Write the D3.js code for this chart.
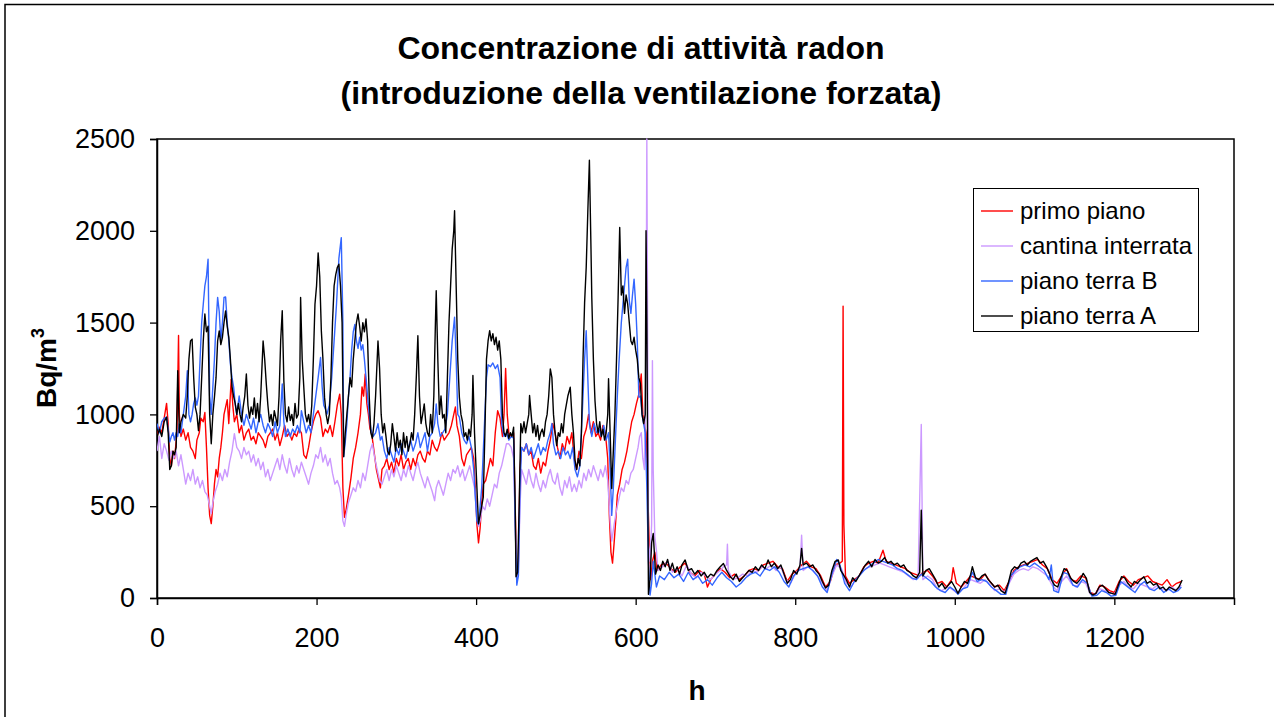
<!DOCTYPE html>
<html>
<head>
<meta charset="utf-8">
<script src="https://cdn.jsdelivr.net/npm/d3@7"></script>
<style>
  body { margin: 0; background: #fff; }
  svg { display: block; font-family: Arial, "Liberation Sans", sans-serif; }
</style>
</head>
<body>
<div id="app"></div>
<script>
// series: [hour, Bq/m3] pairs
const primoPiano = [
  [0,880],[3,930],[6,900],[9,980],[12,1060],[14,950],[16,760],[18,720],[20,800],[22,760],[25,900],[27,1430],[28,1000],[30,880],[33,920],[36,860],[39,900],[42,820],[45,800],[48,760],[50,860],[53,900],[55,980],[58,960],[60,1010],[62,820],[64,600],[66,450],[68,405],[70,500],[72,620],[74,700],[76,660],[78,760],[80,820],[82,900],[84,1000],[86,1040],[88,1080],[90,950],[93,1190],[95,1050],[97,960],[100,1000],[103,900],[106,940],[109,860],[112,900],[115,920],[118,860],[121,880],[124,840],[127,900],[130,880],[133,860],[136,820],[139,880],[142,900],[145,920],[148,860],[151,900],[154,830],[157,880],[160,940],[163,880],[166,900],[169,860],[172,900],[175,880],[178,920],[181,900],[184,780],[187,760],[190,820],[193,900],[196,960],[199,1000],[202,1020],[205,980],[208,880],[211,920],[214,900],[217,940],[220,880],[223,960],[226,1050],[229,1110],[231,1000],[233,600],[235,440],[237,480],[240,560],[243,650],[246,760],[249,820],[252,900],[255,1000],[257,1150],[259,1100],[261,1220],[263,1060],[265,1000],[267,920],[269,900],[272,800],[275,700],[278,640],[280,600],[282,700],[285,720],[288,760],[291,700],[294,740],[297,680],[300,760],[303,720],[306,780],[309,700],[312,740],[315,760],[318,700],[321,760],[324,720],[327,780],[330,800],[333,760],[336,740],[339,800],[342,780],[345,860],[348,820],[351,800],[354,840],[357,900],[360,860],[363,880],[366,900],[369,940],[372,1000],[374,1040],[376,940],[379,880],[382,760],[385,720],[388,780],[391,800],[394,820],[397,760],[399,600],[401,400],[403,300],[405,380],[407,520],[409,620],[412,640],[415,700],[418,760],[421,720],[424,900],[427,1020],[430,980],[433,880],[435,1000],[437,1250],[439,1000],[441,900],[444,880],[447,900],[449,500],[451,100],[453,200],[455,700],[457,820],[460,800],[463,840],[466,780],[469,800],[472,720],[475,700],[478,760],[481,680],[484,740],[487,720],[490,800],[493,860],[496,950],[499,900],[502,820],[505,760],[508,840],[511,800],[514,880],[517,840],[520,900],[523,760],[526,700],[529,800],[532,760],[535,880],[538,920],[541,1000],[544,900],[547,960],[550,880],[553,900],[556,860],[559,940],[562,900],[565,760],[567,450],[569,250],[571,190],[573,300],[575,420],[577,560],[580,620],[583,700],[586,740],[589,800],[592,880],[595,960],[598,1000],[601,1060],[604,1110],[607,1220],[609,1000],[611,950],[613,900],[615,600],[617,300],[619,100],[621,200],[624,250],[627,150],
  [632,180],[638,190],[644,160],[650,140],[656,170],[662,190],[668,140],[674,120],[680,150],[686,130],[690,60],[694,100],[700,130],[706,160],[712,140],[718,110],[724,130],[730,100],[736,120],[742,150],[748,160],[754,150],[760,180],[766,190],[772,200],[778,170],[784,160],[790,90],[796,130],[802,150],[808,180],[814,200],[820,170],[826,160],[832,120],[838,60],[844,90],[850,180],[856,190],[859,200],[860,1590],[861,400],[863,120],[868,80],[874,100],[880,120],[886,170],[892,190],[898,200],[904,190],[910,260],[914,200],[920,190],[926,180],[932,170],[938,160],[944,140],[950,130],[956,120],[960,140],[966,150],[972,120],[978,80],[984,90],[990,60],[996,100],[998,165],[1002,80],[1008,60],[1014,90],[1020,120],[1026,110],[1032,100],[1038,130],[1044,90],[1050,60],[1056,70],[1062,40],[1068,90],[1074,150],[1080,170],[1086,180],[1092,190],[1098,200],[1104,210],[1110,180],[1116,160],[1122,100],[1128,80],[1134,120],[1140,160],[1146,100],[1152,90],[1158,120],[1164,110],[1170,30],[1176,20],[1182,70],[1188,60],[1194,40],[1200,30],[1206,90],[1212,120],[1218,90],[1224,70],[1230,100],[1236,110],[1242,120],[1248,90],[1254,80],[1260,70],[1266,100],[1272,60],[1278,80],[1284,90]
];

const cantinaInterrata = [
  [0,800],[3,880],[6,760],[9,840],[12,800],[15,750],[18,800],[21,760],[24,800],[27,720],[30,780],[33,700],[36,620],[39,680],[42,640],[45,700],[48,620],[51,660],[54,600],[57,640],[60,580],[63,560],[66,500],[68,460],[70,520],[73,580],[76,620],[79,680],[82,640],[85,700],[88,660],[91,740],[94,800],[97,895],[100,820],[103,800],[106,760],[109,820],[112,780],[115,800],[118,740],[121,780],[124,720],[127,760],[130,700],[133,740],[136,660],[139,700],[142,640],[145,680],[148,720],[151,760],[154,700],[157,780],[160,720],[163,680],[166,760],[169,700],[172,660],[175,720],[178,680],[181,740],[184,700],[187,660],[190,620],[193,680],[196,720],[199,780],[202,760],[205,820],[208,740],[211,780],[214,720],[217,760],[220,680],[223,620],[226,640],[229,600],[231,550],[233,420],[235,390],[237,450],[240,520],[243,560],[246,600],[249,580],[252,640],[255,600],[258,680],[261,640],[264,720],[267,800],[270,840],[273,760],[276,700],[279,640],[282,620],[285,660],[288,700],[291,640],[294,700],[297,660],[300,720],[303,680],[306,640],[309,700],[312,660],[315,720],[318,680],[321,640],[324,700],[327,740],[330,680],[333,640],[336,600],[339,660],[342,620],[345,580],[348,530],[350,600],[353,640],[356,600],[359,560],[362,620],[365,680],[368,640],[371,700],[374,680],[377,720],[380,660],[383,700],[386,640],[389,680],[392,720],[395,660],[398,600],[401,450],[403,390],[405,420],[408,500],[411,480],[414,540],[417,500],[420,560],[423,620],[426,600],[429,680],[432,720],[435,780],[438,840],[441,840],[444,820],[447,760],[449,400],[451,100],[453,150],[455,500],[457,700],[460,660],[463,620],[466,700],[469,640],[472,600],[475,680],[478,620],[481,580],[484,640],[487,600],[490,660],[493,700],[496,640],[499,620],[502,680],[505,600],[508,560],[511,640],[514,600],[517,660],[520,580],[523,620],[526,580],[529,640],[532,600],[535,680],[538,640],[541,700],[544,660],[547,720],[550,680],[553,640],[556,700],[559,660],[562,720],[565,640],[568,420],[570,310],[573,400],[576,480],[579,540],[582,600],[585,580],[588,640],[591,620],[594,680],[597,700],[600,760],[603,820],[605,880],[607,900],[609,760],[611,700],[613,1300],[614,2500],[615,1400],[616,315],[618,200],[620,400],[621,1293],[622,700],[624,333],[626,260],[628,150],
  [634,170],[640,200],[646,140],[652,160],[658,120],[664,180],[670,130],[676,110],[682,140],[688,120],[694,100],[700,130],[706,150],[710,170],[714,180],[715,293],[716,150],[722,100],[728,110],[734,130],[740,120],[746,150],[752,140],[758,170],[764,160],[770,180],[776,150],[782,170],[788,100],[794,80],[800,130],[806,160],[808,342],[810,150],[816,170],[822,150],[828,120],[834,80],[840,40],[846,120],[852,180],[858,160],[864,80],[870,60],[876,100],[882,130],[888,160],[894,170],[900,180],[906,190],[912,180],[918,170],[924,160],[930,150],[936,140],[942,120],[948,100],[954,110],[958,945],[960,100],[966,120],[972,100],[978,50],[984,40],[990,60],[996,50],[1002,30],[1008,40],[1014,70],[1020,100],[1026,90],[1032,80],[1038,100],[1044,70],[1050,40],[1056,50],[1062,30],[1068,80],[1074,130],[1080,150],[1086,160],[1092,150],[1098,170],[1104,160],[1110,140],[1116,120],[1122,70],[1128,40],[1134,90],[1140,120],[1146,80],[1152,60],[1158,90],[1164,80],[1170,20],[1176,20],[1182,50],[1188,40],[1194,30],[1200,20],[1206,70],[1212,90],[1218,60],[1224,50],[1230,80],[1236,70],[1242,60],[1248,50],[1254,70],[1260,50],[1266,40],[1272,60],[1278,40],[1284,70]
];

const pianoTerraB = [
  [0,950],[3,900],[6,960],[9,980],[12,985],[14,920],[16,850],[18,880],[20,900],[22,860],[24,900],[26,880],[28,950],[30,900],[33,1000],[36,1100],[38,1238],[40,1000],[42,960],[44,1000],[46,1060],[48,1090],[50,1050],[52,1100],[54,1300],[56,1500],[58,1600],[60,1700],[62,1750],[64,1845],[65,1500],[66,1100],[68,1000],[70,1150],[72,1300],[74,1500],[76,1637],[78,1560],[80,1400],[82,1500],[84,1637],[86,1640],[88,1500],[90,1400],[92,1275],[94,1200],[96,1150],[98,1060],[100,1000],[103,1100],[106,1000],[109,940],[112,1000],[115,960],[118,920],[121,980],[124,900],[127,960],[130,1000],[133,940],[136,900],[139,950],[142,920],[145,880],[148,960],[151,900],[154,940],[157,1166],[159,960],[161,880],[164,920],[167,880],[170,920],[173,900],[176,940],[179,900],[181,1020],[184,960],[187,900],[190,940],[193,900],[196,1000],[199,1100],[202,1200],[205,1310],[207,1150],[209,1050],[211,1030],[213,1000],[216,1050],[219,1200],[222,1400],[225,1600],[228,1850],[231,1963],[233,1500],[234,770],[236,850],[238,950],[240,1100],[242,1200],[244,1350],[246,1450],[248,1490],[250,1400],[252,1360],[254,1420],[256,1350],[258,1380],[260,1300],[262,1200],[264,1094],[266,1000],[268,920],[271,880],[274,900],[277,950],[280,860],[282,880],[285,800],[288,760],[291,820],[294,780],[297,740],[300,820],[303,780],[306,840],[309,800],[312,760],[315,820],[318,860],[321,800],[324,840],[327,900],[330,820],[333,860],[336,900],[339,800],[342,880],[345,900],[348,950],[350,1057],[352,950],[355,880],[358,900],[361,920],[364,1000],[367,1200],[370,1400],[373,1529],[375,1300],[377,1000],[379,985],[382,900],[385,860],[388,840],[391,880],[394,820],[397,700],[399,550],[401,420],[403,400],[405,500],[407,600],[409,800],[411,1000],[413,1200],[415,1270],[418,1260],[421,1280],[424,1250],[427,1270],[430,1200],[432,950],[435,880],[438,900],[441,860],[444,880],[447,870],[449,400],[451,70],[453,120],[455,600],[457,820],[460,800],[463,840],[466,780],[469,820],[472,760],[475,800],[478,840],[481,780],[484,820],[487,800],[490,860],[493,900],[495,950],[497,840],[500,780],[503,800],[506,760],[509,820],[512,780],[515,800],[518,760],[521,820],[524,700],[527,660],[530,720],[533,1000],[536,1300],[538,1456],[540,1200],[542,950],[545,880],[548,950],[551,900],[554,920],[557,880],[560,940],[563,860],[566,900],[568,700],[570,450],[572,600],[575,900],[577,1100],[579,1275],[582,1500],[585,1650],[588,1800],[590,1845],[592,1620],[594,1550],[596,1650],[598,1737],[600,1600],[602,1400],[604,1094],[606,1100],[608,1000],[610,950],[612,900],[614,600],[616,200],[618,16],[620,80],[622,200],
  [626,60],[630,120],[636,100],[642,140],[648,110],[654,130],[660,90],[666,140],[672,100],[678,120],[684,80],[690,100],[696,70],[702,110],[708,140],[714,110],[720,90],[726,60],[732,80],[738,110],[744,130],[750,140],[756,120],[762,160],[768,150],[774,170],[780,140],[786,90],[792,60],[798,120],[804,150],[810,160],[816,170],[822,150],[828,120],[834,60],[840,30],[846,130],[852,210],[856,180],[862,80],[868,40],[874,90],[880,120],[886,150],[892,170],[898,190],[904,210],[910,200],[916,190],[922,180],[928,160],[934,150],[940,130],[946,110],[952,100],[958,130],[964,110],[970,90],[976,60],[982,40],[988,30],[994,60],[1000,40],[1004,20],[1010,50],[1016,60],[1022,140],[1028,90],[1034,100],[1040,90],[1046,60],[1052,40],[1058,20],[1064,20],[1070,120],[1076,150],[1082,170],[1088,180],[1094,170],[1100,190],[1106,170],[1112,150],[1118,100],[1121,180],[1124,40],[1130,30],[1136,140],[1142,130],[1148,70],[1154,60],[1160,100],[1166,80],[1172,10],[1178,15],[1184,40],[1190,30],[1196,10],[1202,15],[1208,90],[1214,70],[1220,50],[1226,30],[1232,70],[1238,90],[1244,50],[1250,40],[1256,60],[1262,30],[1268,50],[1274,30],[1280,40],[1284,60]
];

const pianoTerraA = [
  [0,876],[3,920],[6,880],[9,960],[12,985],[14,900],[16,700],[18,720],[20,800],[22,780],[24,820],[26,1238],[28,900],[30,960],[33,1000],[36,980],[38,1100],[40,1300],[42,1400],[44,1410],[46,1200],[48,1040],[50,1000],[52,912],[54,1000],[56,1200],[58,1400],[60,1547],[62,1450],[64,1480],[66,1000],[68,840],[70,1000],[72,1094],[74,1200],[76,1400],[78,1455],[80,1380],[82,1420],[84,1500],[86,1564],[88,1480],[90,1420],[92,1300],[94,1150],[96,1100],[98,1060],[100,1000],[102,1060],[104,1000],[106,960],[108,1040],[110,1100],[112,1220],[114,1050],[116,980],[118,1040],[120,1000],[122,1090],[124,980],[126,1060],[128,960],[130,1100],[133,1400],[135,1300],[137,1166],[139,1050],[141,960],[143,1000],[145,940],[147,1020],[149,980],[151,940],[153,1100],[155,1400],[157,1565],[159,1185],[161,1000],[163,960],[165,1040],[167,967],[169,1000],[171,940],[173,1060],[175,980],[177,1000],[179,1200],[180,1637],[182,1300],[184,1148],[186,1000],[188,960],[190,1000],[192,940],[194,1050],[196,1300],[198,1600],[200,1700],[202,1880],[204,1750],[206,1455],[208,1300],[210,1094],[212,1000],[214,950],[216,1000],[218,1200],[220,1500],[222,1700],[224,1760],[226,1800],[228,1818],[230,1700],[232,1500],[234,770],[236,900],[238,1000],[240,1100],[242,1200],[244,1150],[246,1300],[248,1400],[250,1500],[252,1547],[254,1480],[256,1400],[258,1500],[260,1450],[262,1520],[264,1400],[266,1100],[268,900],[270,870],[272,950],[274,1100],[276,1300],[277,1400],[279,1250],[281,1000],[283,900],[285,950],[287,880],[289,800],[291,780],[293,840],[295,950],[297,880],[299,800],[301,900],[303,820],[305,860],[307,780],[309,900],[311,820],[313,880],[315,800],[317,840],[319,900],[321,860],[323,1000],[325,1200],[327,1428],[329,1100],[331,950],[333,1000],[335,1057],[337,950],[339,900],[341,880],[343,1000],[345,900],[347,1100],[349,1500],[350,1674],[352,1300],[354,1000],[356,1100],[358,980],[360,1000],[362,900],[364,1200],[366,1500],[368,1700],[370,1900],[372,2000],[373,2109],[375,1700],[377,1300],[379,1094],[381,1000],[383,960],[385,880],[387,900],[389,860],[391,920],[393,880],[395,1000],[396,1212],[398,900],[400,700],[402,500],[403,405],[405,450],[407,500],[409,550],[411,900],[413,1300],[415,1400],[417,1456],[419,1400],[421,1440],[423,1380],[425,1420],[427,1350],[429,1400],[431,1300],[433,1000],[435,900],[437,880],[439,920],[441,870],[443,900],[445,880],[447,930],[449,500],[450,116],[452,140],[454,500],[456,950],[458,900],[460,960],[462,900],[464,950],[466,1000],[467,1103],[469,1000],[471,900],[473,950],[475,880],[477,940],[479,860],[481,900],[483,920],[485,880],[487,960],[489,1000],[491,1100],[493,1248],[495,1200],[497,1000],[499,900],[501,830],[503,900],[505,880],[507,950],[509,900],[511,1000],[513,1050],[515,1100],[518,1148],[520,1000],[522,900],[524,750],[526,700],[528,760],[530,720],[532,900],[534,1300],[536,1610],[538,1800],[540,2100],[542,2384],[544,1900],[545,1637],[547,1300],[549,1076],[551,950],[553,900],[555,960],[557,880],[559,920],[561,860],[563,900],[565,1000],[566,1194],[568,900],[570,596],[572,800],[574,1000],[576,1300],[578,1637],[580,2018],[582,1650],[584,1700],[586,1550],[588,1650],[590,1600],[592,1500],[594,1400],[596,1380],[598,1420],[600,1350],[602,1300],[604,1200],[606,1166],[608,1000],[610,950],[612,1000],[613,2000],[614,1500],[615,800],[616,20],[618,100],[620,300],[622,351],
  [625,130],[628,180],[631,150],[634,200],[637,170],[640,210],[643,150],[646,190],[649,140],[652,170],[655,130],[658,180],[662,207],[666,150],[670,160],[674,130],[678,150],[682,120],[686,140],[690,110],[694,130],[698,120],[702,150],[706,170],[710,188],[714,150],[718,120],[722,100],[726,130],[730,90],[734,110],[738,130],[742,150],[746,140],[750,170],[754,150],[758,180],[762,160],[766,207],[770,170],[774,190],[778,160],[782,180],[786,130],[790,80],[794,100],[798,150],[802,130],[806,180],[808,270],[810,180],[814,190],[818,170],[822,180],[826,150],[830,130],[834,90],[838,55],[842,70],[846,150],[850,200],[854,207],[857,150],[860,130],[864,100],[868,60],[872,110],[876,90],[880,120],[884,150],[888,180],[892,200],[896,170],[900,210],[904,190],[908,200],[912,220],[916,190],[920,200],[924,180],[928,190],[932,170],[936,180],[940,150],[944,140],[948,120],[952,110],[956,140],[958,478],[960,120],[964,150],[968,160],[972,130],[976,100],[980,60],[984,80],[988,50],[992,70],[996,90],[1000,60],[1004,25],[1008,60],[1012,90],[1016,80],[1020,130],[1022,170],[1026,110],[1030,100],[1034,120],[1038,130],[1042,100],[1046,80],[1050,60],[1054,70],[1058,40],[1063,25],[1067,80],[1071,150],[1075,170],[1079,160],[1083,190],[1087,200],[1091,180],[1095,200],[1099,210],[1103,220],[1107,190],[1111,200],[1115,170],[1119,130],[1121,100],[1125,70],[1129,60],[1133,110],[1137,160],[1141,150],[1145,110],[1149,90],[1153,80],[1157,100],[1161,134],[1165,107],[1169,30],[1173,16],[1177,25],[1181,60],[1185,70],[1189,50],[1193,30],[1197,25],[1201,20],[1205,70],[1209,116],[1213,110],[1217,80],[1221,60],[1225,90],[1229,80],[1233,100],[1237,116],[1241,80],[1245,90],[1249,70],[1253,80],[1257,50],[1261,60],[1265,40],[1269,60],[1273,50],[1277,40],[1281,60],[1285,98]
];

const seriesNames = ["primo piano", "cantina interrata", "piano terra B", "piano terra A"];
const seriesColors = ["#ff0000", "#cc99ff", "#3366ff", "#000000"];
const xTicks = [0, 200, 400, 600, 800, 1000, 1200];
const yTicks = [0, 500, 1000, 1500, 2000, 2500];
const titleLines = ["Concentrazione di attività radon", "(introduzione della ventilazione forzata)"];

const W = 1274, H = 717;
const plot = {left: 157, right: 1234, top: 139, bottom: 598};

const svg = d3.select("#app").append("svg")
    .attr("width", W)
    .attr("height", H);

// chart area border
svg.append("rect")
    .attr("x", 5).attr("y", 4.5)
    .attr("width", 1300).attr("height", 800)
    .attr("fill", "#fff")
    .attr("stroke", "#000").attr("stroke-width", 1.5);

const x = d3.scaleLinear().domain([0, 1350]).range([plot.left, plot.right]);
const y = d3.scaleLinear().domain([0, 2500]).range([plot.bottom, plot.top]);

// title
svg.append("g").selectAll("text")
    .data(titleLines)
    .join("text")
        .attr("x", 641)
        .attr("y", (d, i) => 59 + i * 45)
        .attr("text-anchor", "middle")
        .attr("font-size", 32)
        .attr("font-weight", "bold")
        .text(d => d);

// plot border
svg.append("rect")
    .attr("x", plot.left).attr("y", plot.top)
    .attr("width", plot.right - plot.left)
    .attr("height", plot.bottom - plot.top)
    .attr("fill", "none")
    .attr("stroke", "#000").attr("stroke-width", 1.5);

svg.append("defs").append("clipPath").attr("id", "clip")
    .append("rect")
    .attr("x", plot.left).attr("y", plot.top - 1)
    .attr("width", plot.right - plot.left)
    .attr("height", plot.bottom - plot.top + 1);

// axes
const xAxis = svg.append("g")
    .attr("transform", "translate(0," + plot.bottom + ")")
    .call(d3.axisBottom(x).tickValues(xTicks).tickSize(7).tickPadding(23).tickFormat(d3.format("d")));
const yAxis = svg.append("g")
    .attr("transform", "translate(" + plot.left + ",0)")
    .call(d3.axisLeft(y).tickValues(yTicks).tickSize(7).tickPadding(15).tickFormat(d3.format("d")));
[xAxis, yAxis].forEach(a => {
    a.select(".domain").attr("stroke", "#000").attr("stroke-width", 1.5);
    a.selectAll(".tick line").attr("stroke", "#000").attr("stroke-width", 1.3);
    a.selectAll("text")
        .attr("font-size", 27)
        .attr("font-family", "Arial, 'Liberation Sans', sans-serif")
        .attr("fill", "#000");
});

// lines
const line = d3.line().x(d => x(d[0])).y(d => y(d[1]));
const allSeries = [primoPiano, cantinaInterrata, pianoTerraB, pianoTerraA];
svg.append("g").attr("clip-path", "url(#clip)")
    .selectAll("path")
    .data(allSeries)
    .join("path")
        .attr("fill", "none")
        .attr("stroke", (d, i) => seriesColors[i])
        .attr("stroke-width", 1.4)
        .attr("stroke-linejoin", "round")
        .attr("d", line);

// axis titles
svg.append("text")
    .attr("transform", "translate(56,368) rotate(-90)")
    .attr("text-anchor", "middle")
    .attr("font-size", 28)
    .attr("font-weight", "bold")
    .call(t => {
        t.append("tspan").text("Bq/m");
        t.append("tspan").attr("dy", -12).attr("font-size", 18).text("3");
    });
svg.append("text")
    .attr("x", 697).attr("y", 700)
    .attr("text-anchor", "middle")
    .attr("font-size", 28)
    .attr("font-weight", "bold")
    .text("h");

// legend
const legend = svg.append("g");
legend.append("rect")
    .attr("x", 973.5).attr("y", 188.5)
    .attr("width", 225).attr("height", 143)
    .attr("fill", "#fff")
    .attr("stroke", "#000").attr("stroke-width", 1);
const items = legend.selectAll("g.item")
    .data(seriesNames)
    .join("g")
        .attr("class", "item")
        .attr("transform", (d, i) => "translate(0," + (211 + i * 35) + ")");
items.append("line")
    .attr("x1", 981).attr("x2", 1013)
    .attr("stroke", (d, i) => seriesColors[i])
    .attr("stroke-width", 1.4);
items.append("text")
    .attr("x", 1020).attr("y", 8)
    .attr("font-size", 24)
    .text(d => d);
</script>
</body>
</html>
